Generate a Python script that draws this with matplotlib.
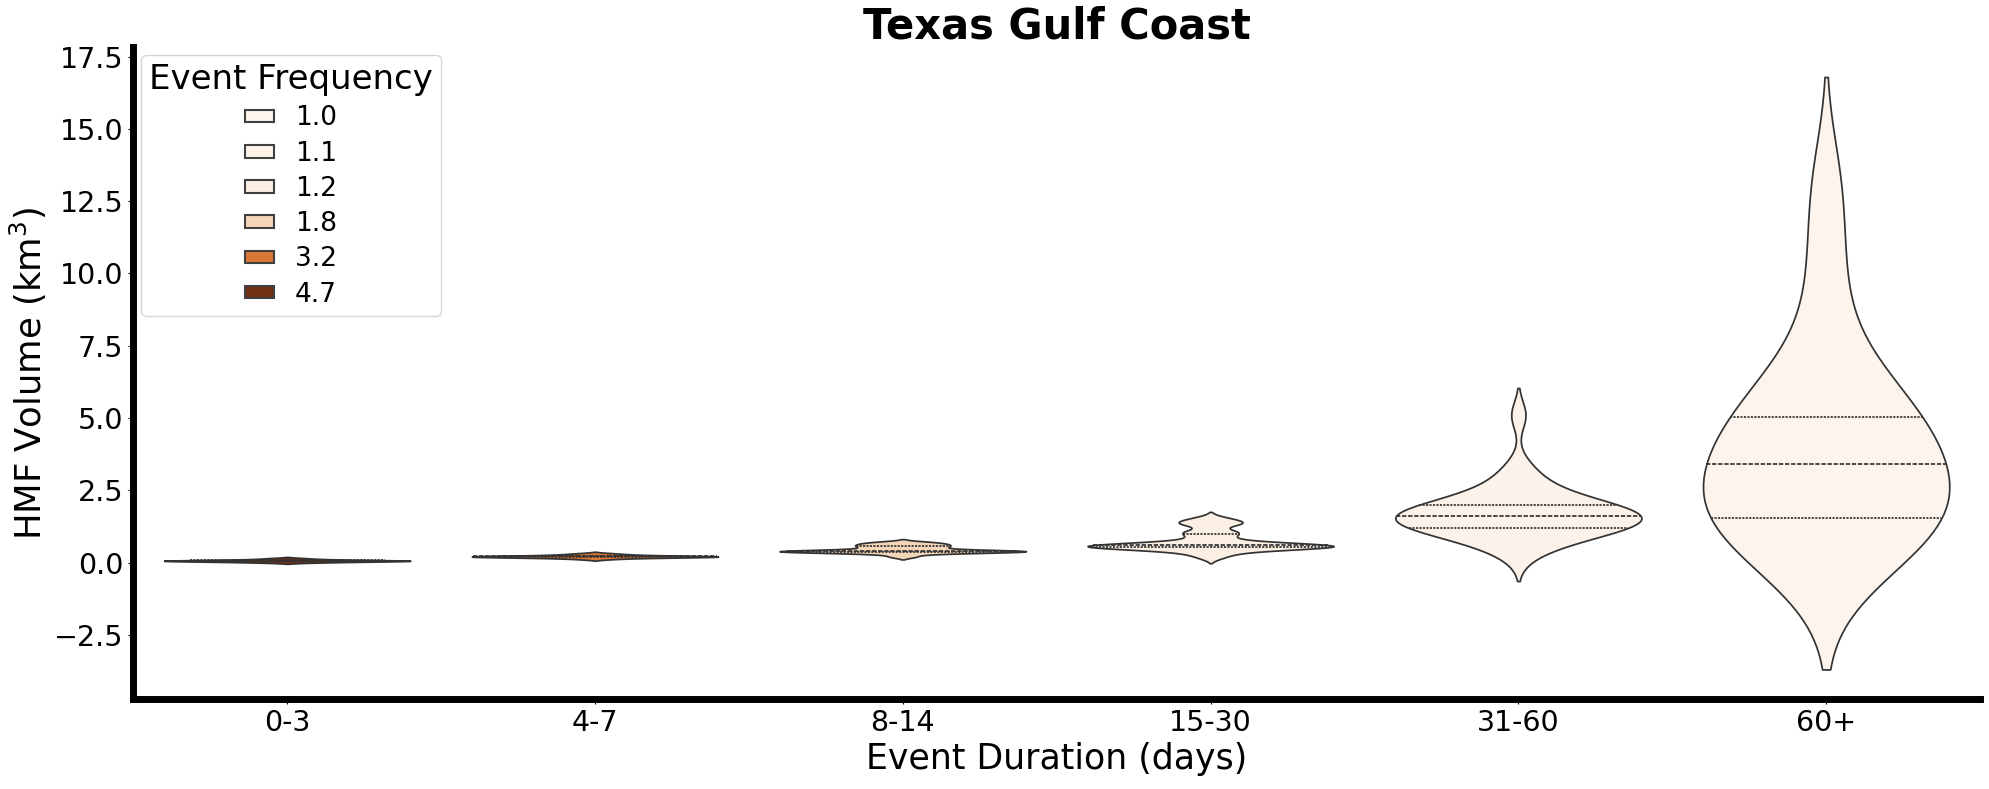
import matplotlib
matplotlib.use("Agg")
import matplotlib.pyplot as plt
from matplotlib.patches import Patch
from matplotlib.ticker import MultipleLocator
import numpy as np
import pandas as pd
import seaborn as sns

# event duration classes and their mean event frequency
durations = ['0-3', '4-7', '8-14', '15-30', '31-60', '60+']
frequency = [4.7, 3.2, 1.8, 1.2, 1.1, 1.0]

# HMF volume per event (km^3)
vol_0_3 = [0.0, 0.02, 0.03, 0.04, 0.05, 0.05, 0.06, 0.06, 0.06, 0.07, 0.07,
           0.08, 0.09, 0.1, 0.12, 0.15]
vol_4_7 = [0.12, 0.15, 0.17, 0.18, 0.19, 0.19, 0.2, 0.2, 0.2, 0.21, 0.21,
           0.22, 0.22, 0.23, 0.24, 0.25, 0.27, 0.29, 0.32]
vol_8_14 = [0.2, 0.28, 0.33, 0.35, 0.36, 0.37, 0.38, 0.38, 0.39, 0.39, 0.4,
            0.4, 0.41, 0.42, 0.44, 0.47, 0.5, 0.53, 0.56, 0.58, 0.61, 0.63,
            0.66, 0.69, 0.72]
vol_15_30 = [0.18, 0.3, 0.38, 0.44, 0.48, 0.5, 0.52, 0.53, 0.54, 0.55, 0.56,
             0.57, 0.58, 0.59, 0.6, 0.61, 0.62, 0.64, 0.67, 0.72, 0.8, 0.9,
             1.0, 1.05, 1.1, 1.3, 1.35, 1.4, 1.45, 1.55]
vol_31_60 = [0.3, 0.6, 0.8, 0.95, 1.05, 1.1, 1.15, 1.2, 1.3, 1.35, 1.4, 1.45,
             1.5, 1.55, 1.6, 1.65, 1.7, 1.75, 1.8, 1.9, 1.95, 2.0, 2.05, 2.2,
             2.4, 2.6, 2.9, 3.3, 5.1]
vol_60p = [0.1, 0.7, 1.0, 1.3, 1.5, 1.6, 2.1, 2.6, 3.0, 3.8, 4.2, 4.6, 4.9,
           5.1, 6.0, 7.2, 10.0, 13.0]
volumes = [vol_0_3, vol_4_7, vol_8_14, vol_15_30, vol_31_60, vol_60p]

# kde smoothing per class
bw_adjust = [1.0, 1.0, 0.65, 0.55, 1.0, 1.0]

rows = []
for dur, freq, vols in zip(durations, frequency, volumes):
    for v in vols:
        rows.append({'duration': dur, 'frequency': freq, 'volume': v})
df = pd.DataFrame(rows)

cmap = plt.get_cmap('Oranges')
norm = plt.Normalize(min(frequency), max(frequency))
freq_colors = {f: cmap(norm(f)) for f in frequency}
line_col = '0.2'

fig, ax = plt.subplots(figsize=(19.9, 7.89), dpi=100)
fig.subplots_adjust(left=0.067, right=0.995, bottom=0.114, top=0.94)

for dur, bw in zip(durations, bw_adjust):
    sub = df[df['duration'] == dur]
    sns.violinplot(data=sub, x='duration', y='volume', hue='frequency',
                   order=durations, palette=freq_colors, inner='quart',
                   density_norm='width', bw_adjust=bw, linecolor=line_col,
                   legend=False, ax=ax)

handles = [Patch(facecolor=sns.desaturate(freq_colors[f], 0.75),
                 edgecolor='0.25', linewidth=1.5, label=f'{f:.1f}')
           for f in sorted(frequency)]
ax.legend(handles=handles, title='Event Frequency', loc='upper left',
          fontsize=19, title_fontsize=24.5, handlelength=1.1,
          handleheight=0.36, labelspacing=0.35, borderpad=0.3,
          borderaxespad=0.3)

ax.set_title('Texas Gulf Coast', fontsize=30, fontweight='bold', pad=2)
ax.set_xlabel('Event Duration (days)', fontsize=25)
ax.set_ylabel('HMF Volume (km$^3$)', fontsize=25.5)
ax.yaxis.set_major_locator(MultipleLocator(2.5))
ax.tick_params(labelsize=20.5)
ax.spines[['top', 'right']].set_visible(False)
for s in ['left', 'bottom']:
    ax.spines[s].set_linewidth(5)

plt.savefig('out.png')
